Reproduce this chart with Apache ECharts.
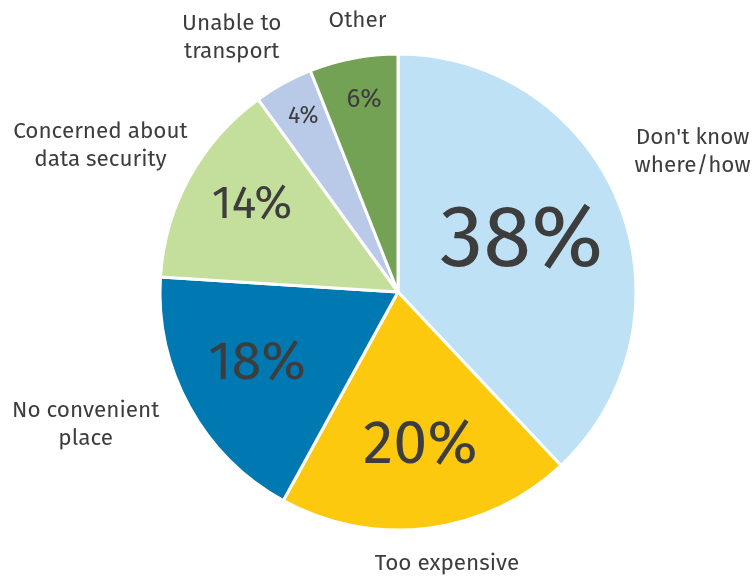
<!DOCTYPE html>
<html><head><meta charset="utf-8">
<script src="https://cdn.jsdelivr.net/npm/echarts@6/dist/echarts.min.js"></script>
<style>html,body{margin:0;padding:0;background:#fff}#c{width:752px;height:579px}</style>
</head><body><div id="c"></div>
<script>
const categories = ["Don't know\nwhere/how", "Too expensive", "No convenient\nplace", "Concerned about\ndata security", "Unable to\ntransport", "Other"];
const values = [38, 20, 18, 14, 4, 6];
const colors = ['#BEE1F6', '#FDC90F', '#0078B1', '#C4DE9C', '#B9C9E8', '#74A255'];
const innerFontSizes = [87, 61, 54, 46, 23, 26];
const innerOffsets = [[10,-5],[7,33],[-34,13],[-39,-28],[-36,-69],[-11,-72]];
const outerOffsets = [[59,-49],[13,26],[-90,13],[-80,-27],[-18,-55],[11,-28]];

const FONT = '"Fira Sans","Noto Sans","Open Sans",sans-serif';
const chart = echarts.init(document.getElementById('c'));
const innerData = categories.map((c,i)=>({name:c, value:values[i], itemStyle:{color:colors[i]},
  label:{fontSize:innerFontSizes[i]}}));
const outerData = categories.map((c,i)=>({name:c, value:values[i]}));
chart.setOption({
  animation:false,
  series:[
    {type:'pie', center:[398,292], radius:[0,238], startAngle:90, clockwise:true,
     data:innerData, silent:true,
     itemStyle:{borderColor:'#fff', borderWidth:3},
     label:{show:true, position:'inside', formatter:'{c}%', color:'#3d3d3d', fontFamily:FONT},
     labelLayout:(p)=>({dx:innerOffsets[p.dataIndex][0], dy:innerOffsets[p.dataIndex][1]})
    },
    {type:'pie', center:[398,292], radius:[0,238], startAngle:90, clockwise:true,
     data:outerData, silent:true,
     itemStyle:{color:'rgba(0,0,0,0)'},
     label:{show:true, position:'outside', formatter:'{b}', color:'#3d3d3d', fontFamily:FONT, fontSize:22.5, lineHeight:28, align:'center', overflow:'none', width:300},
     labelLine:{show:false, length:10, length2:0},
     labelLayout:(p)=>({align:'center', dx:outerOffsets[p.dataIndex][0], dy:outerOffsets[p.dataIndex][1]})
    }
  ]
});
</script></body></html>
